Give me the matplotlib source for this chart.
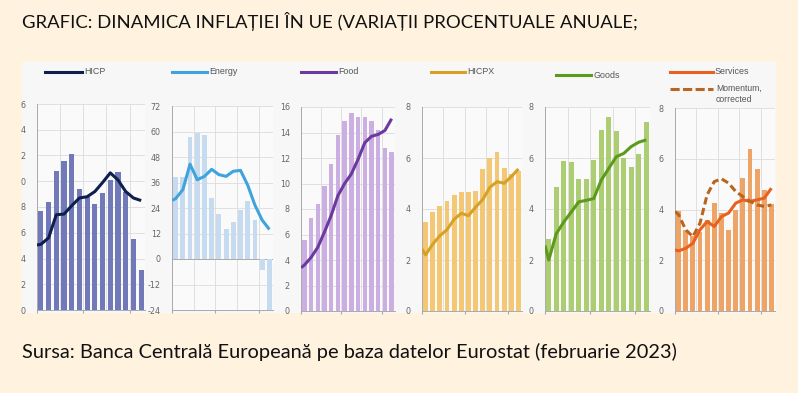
import numpy as np
import matplotlib
matplotlib.use("Agg")
import matplotlib.pyplot as plt
from matplotlib.patches import Rectangle
from matplotlib.lines import Line2D

# bar values (annual % change), 14 bars per panel
hicp_bars = [7.7, 8.4, 10.8, 11.6, 12.1, 9.4, 8.8, 8.2, 9.1, 10.1, 10.7, 9.2, 5.5, 3.1]
energy_bars = [38.5, 38.8, 57.6, 59.4, 58.3, 28.7, 21.3, 14.3, 17.4, 22.9, 27.1, 18.5, -5.3, -25.0]
food_bars = [5.6, 7.3, 8.4, 9.8, 11.5, 13.8, 14.9, 15.5, 15.2, 15.2, 14.9, 14.2, 12.8, 12.5]
hicpx_bars = [3.5, 3.87, 4.1, 4.3, 4.55, 4.66, 4.68, 4.72, 5.55, 6.0, 6.23, 5.61, 5.38, 5.5]
goods_bars = [2.83, 4.87, 5.88, 5.86, 5.17, 5.17, 5.92, 7.1, 7.59, 7.07, 5.99, 5.63, 6.14, 7.43]
services_bars = [3.95, 3.2, 2.95, 3.1, 3.6, 4.25, 3.85, 3.2, 4.0, 5.25, 6.4, 5.6, 4.75, 4.2]

# line values (first point sits on the left axis edge)
hicp_line = [5.05, 5.1, 5.6, 7.4, 7.45, 8.1, 8.7, 8.8, 9.2, 9.9, 10.65, 10.1, 9.2, 8.7, 8.5]
energy_line = [27.6, 28.4, 32.6, 44.6, 37.3, 38.9, 42.2, 39.7, 38.9, 41.3, 41.7, 34.7, 25.3, 18.3, 13.9]
food_line = [3.4, 3.6, 4.2, 5.0, 6.2, 7.5, 9.05, 10.0, 10.75, 11.9, 13.2, 13.7, 13.85, 14.16, 15.08]
hicpx_line = [2.43, 2.2, 2.62, 2.95, 3.19, 3.6, 3.83, 3.74, 4.07, 4.37, 4.85, 5.07, 5.01, 5.27, 5.57]
goods_line = [2.57, 2.0, 3.03, 3.49, 3.88, 4.28, 4.34, 4.41, 5.13, 5.59, 6.05, 6.18, 6.45, 6.62, 6.71]
services_line = [2.41, 2.37, 2.47, 2.67, 3.2, 3.53, 3.33, 3.72, 3.86, 4.25, 4.38, 4.32, 4.38, 4.45, 4.84]
momentum_line = [3.92, 3.8, 3.2, 2.93, 3.46, 4.58, 5.1, 5.21, 5.04, 4.71, 4.51, 4.32, 4.18, 4.12, 4.18]

# y tick labels as printed (first panel's labels are cut off in the source)
hicp_ticks = ['0', '2', '4', '6', '8', '0', '2', '4', '6']
energy_ticks = ['-24', '-12', '0', '12', '24', '36', '48', '60', '72']
food_ticks = ['0', '2', '4', '6', '8', '10', '12', '14', '16']
small_ticks = ['0', '2', '4', '6', '8']

title = "GRAFIC: DINAMICA INFLAȚIEI ÎN UE (VARIAȚII PROCENTUALE ANUALE;"
source = "Sursa: Banca Centrală Europeană pe baza datelor Eurostat (februarie 2023)"

W, H = 798, 393
fig = plt.figure(figsize=(W / 100, H / 100), dpi=100)
fig.patch.set_facecolor('#FFF2DE')

def px(x0, y0, x1, y1):
    # pixel box -> figure fraction rect
    return [x0 / W, 1 - y1 / H, (x1 - x0) / W, (y1 - y0) / H]

# light chart area
fig.add_artist(Rectangle((22 / W, 1 - 313 / H), (776 - 22) / W, (313 - 62) / H,
                         transform=fig.transFigure, facecolor='#F7F7F7',
                         edgecolor='none', zorder=0))

panels = [
    # box, bars, line, bar colour, line colour, ylim, labels
    ((37, 104, 145, 310), hicp_bars, hicp_line, '#7279B9', '#0E1E4D', (0, 16, 2), hicp_ticks),
    ((172, 106, 273, 310), energy_bars, energy_line, '#C6DAF0', '#3FA3DE', (-24, 72, 12), energy_ticks),
    ((301, 107, 395, 311), food_bars, food_line, '#CBAEE2', '#6B3A9E', (0, 16, 2), food_ticks),
    ((422, 107, 522, 311), hicpx_bars, hicpx_line, '#F3C774', '#D6A124', (0, 8, 2), small_ticks),
    ((545, 107, 650, 311), goods_bars, goods_line, '#ACCD72', '#5C9A1B', (0, 8, 2), small_ticks),
    ((675, 108, 775, 311), services_bars, services_line, '#EFA467', '#E8611E', (0, 8, 2), small_ticks),
]

xb = np.arange(14)
xl = np.r_[-0.5, xb]

for box, bars, line, bc, lc, (y0, y1, st), labels in panels:
    ax = fig.add_axes(px(*box))
    ax.set_facecolor('#FAFAFA')
    ax.bar(xb, bars, width=0.68, color=bc, zorder=2)
    ax.plot(xl, line, color=lc, lw=2.2, zorder=3, solid_capstyle='butt')
    if line is services_line:
        ax.plot(xl, momentum_line, color='#B8661F', lw=2.2, ls=(0, (2.4, 1.2)), zorder=4)
    ax.set_xlim(-0.5, 13.5)
    ax.set_ylim(y0, y1)
    ax.set_yticks(np.arange(y0, y1 + st, st))
    ax.set_yticklabels(labels)
    ax.set_xticks([-0.5, 5.5, 11.5])
    ax.set_xticks([2.5, 8.5], minor=True)
    ax.set_xticklabels([])
    ax.grid(True, which='both', color='#DCDCDC', lw=0.6, zorder=0)
    ax.tick_params(axis='y', length=0, labelsize=5.8, labelcolor='#666666', pad=8)
    ax.tick_params(axis='x', which='major', length=2, color='#AAAAAA')
    ax.tick_params(axis='x', which='minor', length=0)
    for s in ['top', 'right']:
        ax.spines[s].set_visible(False)
    for s in ['left', 'bottom']:
        ax.spines[s].set_color('#AAAAAA')
        ax.spines[s].set_linewidth(0.7)
    if y0 < 0:
        ax.axhline(0, color='#AAAAAA', lw=0.7, zorder=1)
    ax.set_axisbelow(True)

# legend entries drawn above each panel
legend = [
    (45, 82, 72, 'HICP', '#0E1E4D'),
    (172, 207, 72, 'Energy', '#3FA3DE'),
    (301, 336, 72, 'Food', '#6B3A9E'),
    (431, 465, 72, 'HICPX', '#D6A124'),
    (556, 591, 75, 'Goods', '#5C9A1B'),
    (670, 713, 72, 'Services', '#E8611E'),
]
for xa, xe, y, txt, c in legend:
    fig.add_artist(Line2D([xa / W, xe / W], [1 - y / H] * 2, color=c, lw=2.2))
    fig.text((xe + 2) / W, 1 - y / H, txt, fontsize=6.4, color='#555555',
             va='center', family='Liberation Sans')
fig.add_artist(Line2D([670 / W, 713 / W], [1 - 89 / H] * 2, color='#B8661F', lw=2.2,
                      ls=(0, (3, 1.1))))
fig.text(716 / W, 1 - 88.5 / H, 'Momentum,', fontsize=6.2, color='#555555',
         va='center', family='Liberation Sans')
fig.text(716 / W, 1 - 99 / H, 'corrected', fontsize=6.2, color='#555555',
         va='center', family='Liberation Sans')

fig.text(22 / W, 1 - 28 / H, title, fontsize=13.3, family='Lato', color='#111111',
         va='baseline')
fig.text(22 / W, 1 - 358 / H, source, fontsize=14.4, family='Lato', color='#111111',
         va='baseline')

fig.savefig('out.png', dpi=100, facecolor=fig.get_facecolor())
